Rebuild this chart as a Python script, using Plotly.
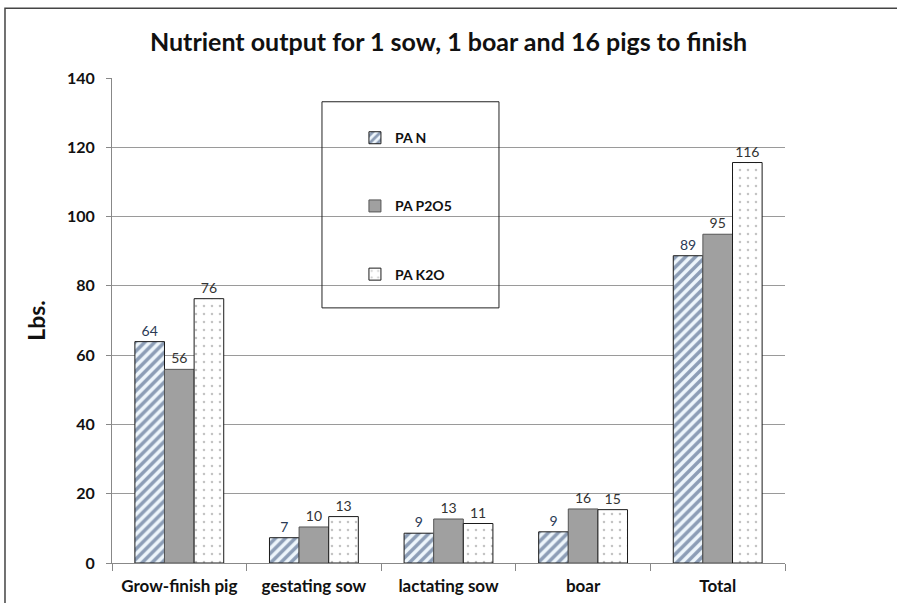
import plotly.graph_objects as go

categories = ["Grow-finish pig", "gestating sow", "lactating sow", "boar", "Total"]
pa_n = [63.9, 7.3, 8.6, 9.0, 88.7]
pa_p2o5 = [55.9, 10.4, 12.7, 15.6, 94.9]
pa_k2o = [76.3, 13.4, 11.4, 15.4, 115.6]
y_ticks = [0, 20, 40, 60, 80, 100, 120, 140]

FONT = "Lato"

fig = go.Figure()
fig.add_trace(go.Bar(
    x=categories, y=pa_n, name="PA N", legendgroup="n",
    marker=dict(color="#eef6fc", line=dict(color="#1a1a1a", width=1),
                pattern=dict(shape="/", fgcolor="#2a4470", bgcolor="#eef6fc", size=7, solidity=0.5)),
    text=[f"{v:.0f}" for v in pa_n], textposition="outside",
    textfont=dict(family=FONT, size=14, color="#2a3a55"), cliponaxis=False,
))
fig.add_trace(go.Bar(
    x=categories, y=pa_p2o5, name="PA P2O5", legendgroup="p",
    marker=dict(color="#a0a0a0", line=dict(color="#555555", width=1)),
    text=[f"{v:.0f}" for v in pa_p2o5], textposition="outside",
    textfont=dict(family=FONT, size=14, color="#333333"), cliponaxis=False,
))
fig.add_trace(go.Bar(
    x=categories, y=pa_k2o, name="PA K2O", legendgroup="k",
    marker=dict(color="white", line=dict(color="#1a1a1a", width=1),
                pattern=dict(shape=".", fgcolor="#888888", bgcolor="white", size=8, solidity=0.08)),
    text=[f"{v:.0f}" for v in pa_k2o], textposition="outside",
    textfont=dict(family=FONT, size=14, color="#333333"), cliponaxis=False,
))

fig.update_layout(
    width=897, height=603,
    margin=dict(l=112, r=112, t=78, b=40),
    paper_bgcolor="white", plot_bgcolor="white",
    barmode="group", bargap=0.34, bargroupgap=0,
    title=dict(text="Nutrient output for 1 sow, 1 boar and 16 pigs to finish",
               x=0.5, xanchor="center", y=0.93, yanchor="middle",
               font=dict(family=FONT, size=25, color="#111111", weight="bold")),
    legend=dict(x=0.361, y=0.909, xanchor="left", yanchor="top",
                bgcolor="rgba(0,0,0,0)", borderwidth=0,
                tracegroupgap=47, itemwidth=30,
                font=dict(family=FONT, size=14, color="#111111", weight="bold")),
    showlegend=True,
)
fig.update_xaxes(
    showline=True, linecolor="#888888", linewidth=1, automargin=False,
    ticks="outside", tickson="boundaries", ticklen=7, tickcolor="#888888",
    ticklabelstandoff=8,
    tickfont=dict(family=FONT, size=17, color="#111111", weight="bold"),
    showgrid=False,
)
fig.update_yaxes(
    range=[0, 140], tickvals=y_ticks, automargin=False,
    showline=True, linecolor="#888888", linewidth=1,
    ticks="outside", ticklen=5, tickcolor="#888888",
    ticklabelstandoff=8,
    showgrid=True, gridcolor="#9a9a9a", gridwidth=1,
    tickfont=dict(family=FONT, size=16, color="#111111", weight="bold"),
    title=dict(text="Lbs.", font=dict(family=FONT, size=23, color="#111111", weight="bold"), standoff=14),
    zeroline=False,
)
# legend frame
fig.add_shape(type="rect", xref="paper", yref="paper",
              x0=0.312, x1=0.575, y0=0.526, y1=0.951,
              line=dict(color="#222222", width=1), fillcolor="rgba(0,0,0,0)", layer="above")
# outer chart frame
fig.add_shape(type="rect", xref="paper", yref="paper",
              x0=-0.159, x1=1.2, y0=-0.2, y1=1.144,
              line=dict(color="#444444", width=1.5), fillcolor="rgba(0,0,0,0)", layer="below")

fig.write_html("out.html", config={"displayModeBar": False},
               post_script="document.body.style.margin='0';document.body.style.padding='0';")
